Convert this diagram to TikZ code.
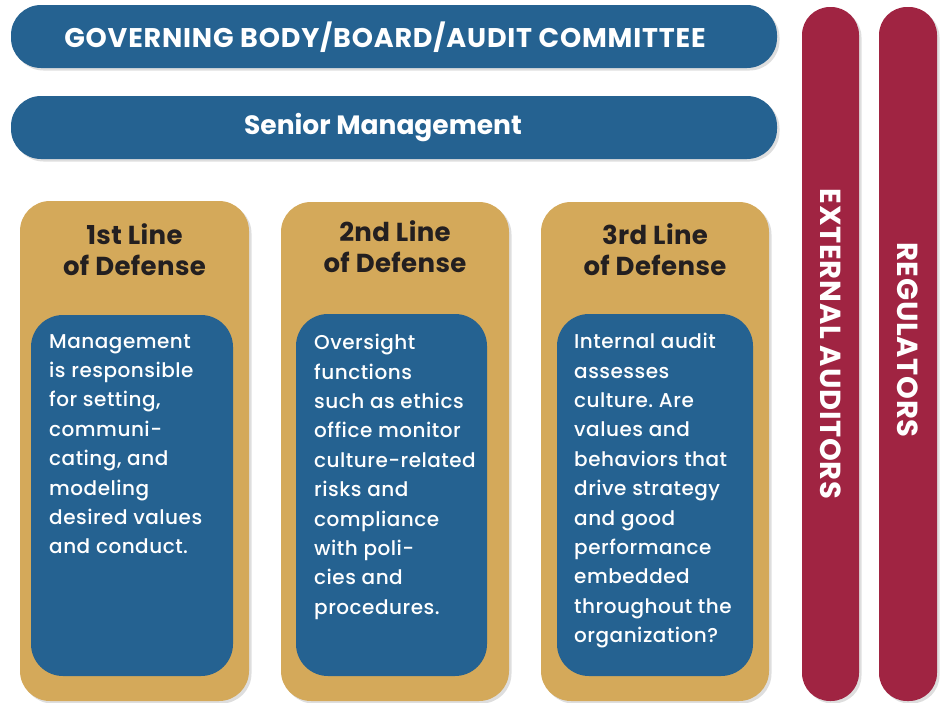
\documentclass[tikz,border=0pt]{standalone}
\usepackage{fontspec}
\setmainfont{Poppins}
\newfontfamily\bodyfont{Poppins Medium}[LetterSpace=2.5]
\newfontfamily\titlefont{Poppins}[LetterSpace=3]
\newfontfamily\headfont{Poppins}[LetterSpace=1.5]
\newfontfamily\vfont{Poppins}[LetterSpace=2.5]
\frenchspacing
\usetikzlibrary{shadows}
\definecolor{cblue}{RGB}{37,98,145}
\definecolor{cgold}{RGB}{212,169,90}
\definecolor{cred}{RGB}{160,36,66}
\definecolor{cdark}{RGB}{35,31,32}
\tikzset{
  shd/.style={drop shadow={shadow xshift=2.5pt,shadow yshift=-2.5pt,opacity=0.13,fill=black}},
  bar/.style={shd,fill=cblue,rounded corners=30pt,inner sep=0pt,draw=none},
  goldbox/.style={shd,fill=cgold,rounded corners=30pt,inner sep=0pt,draw=none},
  innerbox/.style={fill=cblue,rounded corners=32pt,inner sep=0pt,draw=none},
  redbar/.style={shd,fill=cred,rounded corners=28pt,inner sep=0pt,draw=none},
  bartext/.style={text=white,font=\titlefont\bfseries\fontsize{27}{30}\selectfont,inner sep=0pt},
  headtext/.style={text=cdark,font=\headfont\bfseries\fontsize{26}{31}\selectfont,align=center,inner sep=0pt},
  bodytext/.style={text=white,font=\bodyfont\frenchspacing\fontsize{20}{29.4}\selectfont,align=left,inner sep=0pt,anchor=north west},
  vtext/.style={text=white,font=\vfont\bfseries\fontsize{29}{30}\selectfont,inner sep=0pt,rotate=-90}
}
\begin{document}
\begin{tikzpicture}[x=1pt,y=-1pt]
\useasboundingbox (0,0) rectangle (940,702);
% top bars
\node[bar,minimum width=766pt,minimum height=63pt] (gov) at (394,36.5) {};
\node[bartext] (govt) at (385,37) {GOVERNING BODY/BOARD/AUDIT COMMITTEE};
\node[bar,minimum width=766pt,minimum height=63pt] (sen) at (394,127.5) {};
\node[bartext,font=\bfseries\fontsize{26.5}{30}\selectfont] (sent) at (383,128) {Senior Management};
% red bars
\node[redbar,minimum width=57pt,minimum height=694pt] (ext) at (830.5,354) {};
\node[vtext] (extt) at (830.5,344) {EXTERNAL AUDITORS};
\node[redbar,minimum width=58pt,minimum height=694pt] (reg) at (908,354) {};
\node[vtext] (regt) at (908,340) {REGULATORS};
% gold boxes
\node[goldbox,minimum width=229pt,minimum height=500pt] (g1) at (134.5,451) {};
\node[goldbox,minimum width=228pt,minimum height=499pt] (g2) at (395,451.5) {};
\node[goldbox,minimum width=228pt,minimum height=499pt] (g3) at (655,451.5) {};
% inner boxes
\node[innerbox,minimum width=202pt,minimum height=361pt] (i1) at (132,495.5) {};
\node[innerbox,minimum width=191pt,minimum height=362pt] (i2) at (391.5,495) {};
\node[innerbox,minimum width=196pt,minimum height=362pt] (i3) at (655,495) {};
% headings
\node[headtext] (h1) at (134.5,250) {1st Line\\of Defense};
\node[headtext] (h2) at (395,247) {2nd Line\\of Defense};
\node[headtext] (h3) at (655,250) {3rd Line\\of Defense};
% body texts
\node[bodytext] (b1) at (49,334) {Management\\is responsible\\for setting,\\communi-\\cating, and\\modeling\\desired values\\and conduct.};
\node[bodytext] (b2) at (314,334) {Oversight\\functions\\such as ethics\\office monitor\\culture-related\\risks and\\compliance\\with poli-\\cies and\\procedures.};
\node[bodytext] (b3) at (574,333) {Internal audit\\assesses\\culture. Are\\values and\\behaviors that\\drive strategy\\and good\\performance\\embedded\\throughout the\\organization?};
\end{tikzpicture}
\end{document}
